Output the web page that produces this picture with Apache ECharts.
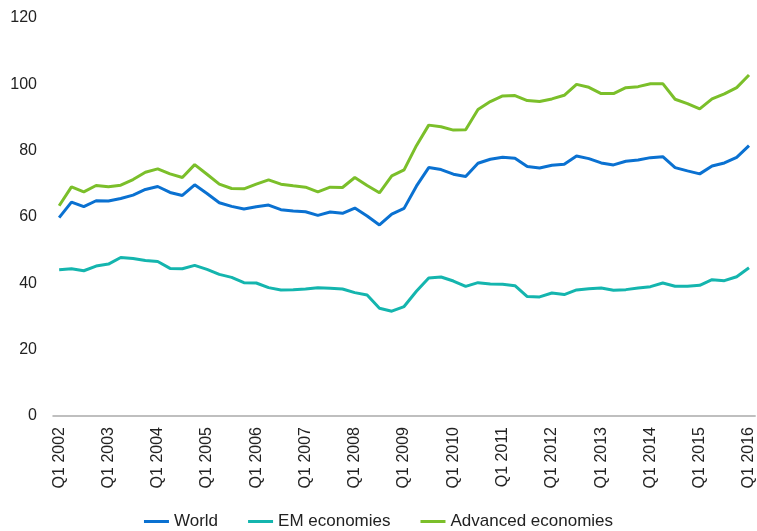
<!DOCTYPE html>
<html>
<head>
<meta charset="utf-8">
<script src="https://cdn.jsdelivr.net/npm/echarts@6/dist/echarts.min.js"></script>
<style>
  html, body { margin: 0; padding: 0; background: #fff; }
  #chart { width: 757px; height: 531px; }
</style>
</head>
<body>
<div id="chart"></div>
<script>
// quarters Q1 2002 .. Q1 2016
var years = [2002, 2003, 2004, 2005, 2006, 2007, 2008, 2009, 2010, 2011, 2012, 2013, 2014, 2015, 2016];
var quarters = ['Q1', 'Q2', 'Q3', 'Q4'];

var world = [59.8, 64.5, 63.1, 64.9, 64.8, 65.6, 66.6, 68.3, 69.2, 67.4, 66.5, 69.7, 67.1, 64.3, 63.2,
    62.4, 63.1, 63.6, 62.2, 61.8, 61.6, 60.5, 61.5, 61.1, 62.7, 60.3, 57.6, 60.9,
    62.6, 69.3, 74.9, 74.3, 72.9, 72.2, 76.2, 77.4, 78.0, 77.7, 75.2, 74.8, 75.6, 75.9,
    78.4, 77.6, 76.3, 75.7, 76.8, 77.2, 77.9, 78.2, 74.9, 73.9, 73.0, 75.4, 76.3, 78.0, 81.5];

var emEconomies = [44.1, 44.4, 43.8, 45.2, 45.8, 47.8, 47.5, 46.9, 46.6, 44.5, 44.4, 45.4, 44.2, 42.7, 41.8,
    40.2, 40.1, 38.7, 38.0, 38.1, 38.3, 38.7, 38.5, 38.3, 37.2, 36.5, 32.5, 31.6,
    33.0, 37.6, 41.6, 41.9, 40.7, 39.1, 40.2, 39.8, 39.7, 39.3, 36.0, 35.9, 37.1, 36.6,
    38.0, 38.4, 38.6, 37.9, 38.1, 38.6, 39.0, 40.1, 39.1, 39.1, 39.4, 41.1, 40.8, 42.0, 44.7];

var advEconomies = [63.4, 69.1, 67.6, 69.5, 69.1, 69.6, 71.3, 73.5, 74.5, 73.0, 71.9, 75.8, 72.9, 69.9, 68.6,
    68.5, 69.9, 71.2, 69.9, 69.4, 69.0, 67.6, 69.0, 68.9, 71.9, 69.5, 67.3, 72.4,
    74.2, 81.5, 87.7, 87.2, 86.2, 86.3, 92.4, 94.8, 96.5, 96.6, 95.1, 94.8, 95.6, 96.7,
    100.0, 99.1, 97.2, 97.2, 99.0, 99.3, 100.2, 100.2, 95.5, 94.2, 92.6, 95.6, 97.1, 99.0, 102.8];

var categories = [];
years.forEach(function (y) {
    quarters.forEach(function (q) {
        if (y === 2016 && q !== 'Q1') return;
        categories.push(q + ' ' + y);
    });
});

var font = 'Liberation Sans';
var chart = echarts.init(document.getElementById('chart'));

var option = {
    animation: false,
    grid: { left: 53, right: 1, top: 18, bottom: 115 },
    legend: {
        bottom: -4,
        left: 'center',
        icon: 'rect',
        itemWidth: 25,
        itemHeight: 3,
        itemGap: 30,
        textStyle: { fontFamily: font, fontSize: 17, color: '#222' },
        data: ['World', 'EM economies', 'Advanced economies']
    },
    xAxis: {
        type: 'category',
        data: categories,
        boundaryGap: true,
        axisLine: { lineStyle: { color: '#aaa', width: 1.5 } },
        axisTick: { show: false },
        axisLabel: {
            rotate: 90,
            margin: 11,
            fontFamily: font,
            fontSize: 16,
            color: '#222',
            interval: function (index) { return index % 4 === 0; }
        }
    },
    yAxis: {
        type: 'value',
        min: 0,
        max: 120,
        interval: 20,
        axisLine: { show: false },
        axisTick: { show: false },
        splitLine: { show: false },
        axisLabel: { margin: 16, fontFamily: font, fontSize: 16, color: '#222' }
    },
    series: [
        { name: 'World', type: 'line', data: world, showSymbol: false, color: '#0a71d1', lineStyle: { width: 3 } },
        { name: 'EM economies', type: 'line', data: emEconomies, showSymbol: false, color: '#14b5ae', lineStyle: { width: 3 } },
        { name: 'Advanced economies', type: 'line', data: advEconomies, showSymbol: false, color: '#7bbf2a', lineStyle: { width: 3 } }
    ]
};
chart.setOption(option);
</script>
</body>
</html>
